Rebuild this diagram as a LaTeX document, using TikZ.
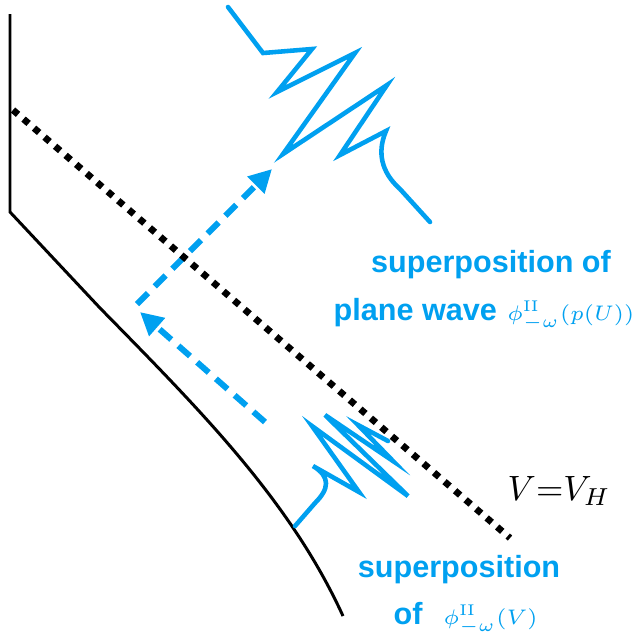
\documentclass[tikz,border=0pt]{standalone}
\usepackage{amsmath, amssymb}
\usepackage{fontspec}
\newfontfamily\lblfont{Liberation Sans}
\usepackage{tikz}
\usetikzlibrary{arrows.meta, positioning, calc}
\definecolor{wavecol}{RGB}{0,160,240}
\tikzset{
  wave/.style={wavecol, line width=1.3pt, line join=miter, line cap=round},
  horizon/.style={line width=1.9pt, dash pattern=on 1.9pt off 2.05pt},
  rayarrow/.style={wavecol, line width=1.7pt, dash pattern=on 4.4pt off 2.7pt, -{Triangle[length=6.5pt,width=6.5pt]}},
  lbl/.style={wavecol, font=\lblfont\bfseries\fontsize{8.7}{10}\selectfont, inner sep=0pt}
}
\newcommand{\phimath}[1]{{\fontsize{6.3}{7}\selectfont$\phi^{\mathrm{II}}_{-\omega}(#1)$}}

\begin{document}
\begin{tikzpicture}[>=Stealth, x=0.01cm, y=-0.01cm]
    \useasboundingbox (0,0) rectangle (637,635);
    % Boundary
    \draw[line width=0.85pt] (10,14) -- (10,212) -- (100,308) .. controls (200,410) and (290,500) .. (343,616);
    % Dashed rays
    \coordinate (inA) at (265,422);
    \coordinate (inB) at (140,312);
    \coordinate (outA) at (137,304);
    \coordinate (outB) at (272,169);
    \draw[rayarrow] (inA) -- (inB);
    \draw[rayarrow] (outA) -- (outB);
    % Horizon
    \draw[horizon] (13,110) -- (510,538);
    % Outgoing packet
    \draw[wave] (228,7) -- (263,53) -- (312,49) -- (277,92) -- (355,53) -- (283,154) -- (387,85) -- (340,155) -- (386,131)
        .. controls (377,152) and (381,172) .. (400,189) -- (430,222);
    % Packet near horizon
    \draw[wave] (295,526) -- (315,503) .. controls (329,489) and (331,477) .. (313,466) -- (359,492) -- (312,426) -- (408,496)
        -- (325,415) -- (393,461) -- (358,425) -- (388,441);
    % Labels
    \node[lbl, anchor=base east] (planebot) at (635,320) {plane wave\hspace{3pt}\phimath{p(U)}};
    \node[lbl, anchor=base] (planetop) at (491,272) {superposition of};
    \node[lbl, anchor=base west] (vbot) at (393,624) {of\hspace{6pt}\phimath{V}};
    \node[lbl, anchor=base] (vtop) at (459,577) {superposition};
    \node[anchor=base west, inner sep=0pt, font=\fontsize{10}{12}\selectfont] (vh) at (507,500) {$V{=}V_H$};
\end{tikzpicture}
\end{document}
